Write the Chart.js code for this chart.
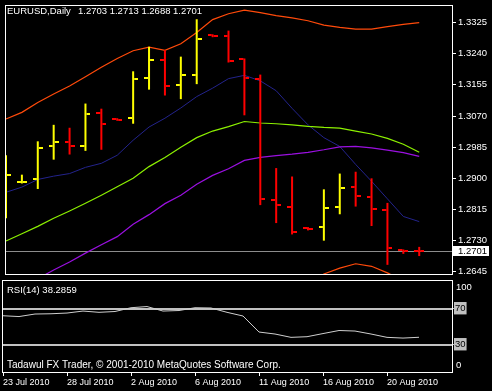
<!DOCTYPE html>
<html>
<head>
<meta charset="utf-8">
<script src="https://cdn.jsdelivr.net/npm/chart.js@4.4.1/dist/chart.umd.min.js"></script>
<style>
  html, body { margin: 0; padding: 0; background: #000; }
  #wrap { position: relative; width: 492px; height: 391px; overflow: hidden; background: #000; }
  canvas { position: absolute; left: 0; }
  #main { top: 0; }
  #rsi { top: 278px; }
</style>
</head>
<body>
<div id="wrap">
  <canvas id="main" width="492" height="280"></canvas>
  <canvas id="rsi" width="492" height="113"></canvas>
</div>
<script>
// --- dados (barras diárias, 23 Jul -> 23 Aug 2010) ---
const symbol = "EURUSD,Daily";
const dateTickIdx = [0, 4, 8, 12, 16, 20, 24];
const dateTickLabels = ["23 Jul 2010", "28 Jul 2010", "2 Aug 2010", "6 Aug 2010", "11 Aug 2010", "16 Aug 2010", "20 Aug 2010"];
const priceTicks = [1.3325, 1.3240, 1.3155, 1.3070, 1.2985, 1.2900, 1.2815, 1.2730, 1.2645];

const opens  = [1.2835, 1.2890, 1.2898, 1.2988, 1.2999, 1.2987, 1.3077, 1.3061, 1.3064, 1.3174, 1.3222, 1.3155, 1.3183, 1.3291, 1.3289, 1.3225, 1.3172, 1.2841, 1.2823, 1.2765, 1.2767, 1.2821, 1.2876, 1.2850, 1.2814, 1.2705, 1.2703];
const highs  = [1.2963, 1.2910, 1.3001, 1.3046, 1.3038, 1.3104, 1.3090, 1.3064, 1.3192, 1.3259, 1.3250, 1.3232, 1.3334, 1.3293, 1.3303, 1.3227, 1.3183, 1.2928, 1.2905, 1.2767, 1.2870, 1.2913, 1.2918, 1.2900, 1.2833, 1.2706, 1.2713];
const lows   = [1.2791, 1.2886, 1.2871, 1.2951, 1.2965, 1.2975, 1.2978, 1.3057, 1.3049, 1.3142, 1.3126, 1.3116, 1.3157, 1.3285, 1.3216, 1.3072, 1.2827, 1.2778, 1.2747, 1.2758, 1.2730, 1.2802, 1.2823, 1.2770, 1.2664, 1.2694, 1.2688];
const closes = [1.2908, 1.2891, 1.2983, 1.2999, 1.2987, 1.3075, 1.3049, 1.3060, 1.3171, 1.3222, 1.3152, 1.3183, 1.3281, 1.3289, 1.3221, 1.3174, 1.2844, 1.2826, 1.2753, 1.2763, 1.2820, 1.2874, 1.2852, 1.2815, 1.2709, 1.2703, 1.2701];

// bandas e médias
const bandUpper = [1.3062, 1.3080, 1.3107, 1.3130, 1.3152, 1.3177, 1.3203, 1.3227, 1.3248, 1.3258, 1.3249, 1.3267, 1.3298, 1.3333, 1.3349, 1.3359, 1.3352, 1.3344, 1.3338, 1.3330, 1.3318, 1.3312, 1.3307, 1.3307, 1.3314, 1.3320, 1.3325];
const bandMiddle = [1.2581, 1.2603, 1.2626, 1.2650, 1.2672, 1.2696, 1.2719, 1.2741, 1.2775, 1.2801, 1.2831, 1.2854, 1.2884, 1.2908, 1.2926, 1.2949, 1.2957, 1.2962, 1.2966, 1.2971, 1.2978, 1.2986, 1.2987, 1.2983, 1.2977, 1.2970, 1.2960];
const bandLower = [null, null, null, null, null, null, null, null, null, null, null, null, null, null, null, null, null, null, 1.2594, 1.2613, 1.2639, 1.2655, 1.2667, 1.2660, 1.2642, 1.2620, 1.2595];
const maGreen = [1.2729, 1.2749, 1.2769, 1.2791, 1.2811, 1.2832, 1.2854, 1.2877, 1.2900, 1.2932, 1.2957, 1.2985, 1.3011, 1.3029, 1.3041, 1.3055, 1.3051, 1.3049, 1.3046, 1.3042, 1.3039, 1.3037, 1.3029, 1.3021, 1.3009, 1.2993, 1.2971];
const maNavy = [1.2862, 1.2876, 1.2897, 1.2906, 1.2913, 1.2930, 1.2941, 1.2963, 1.3004, 1.3040, 1.3064, 1.3092, 1.3123, 1.3146, 1.3172, 1.3181, 1.3166, 1.3139, 1.3091, 1.3046, 1.3011, 1.2987, 1.2938, 1.2892, 1.2844, 1.2796, 1.2782];

// RSI(14)
const rsiLabel = "RSI(14)";
const rsi = [62.2, 61.3, 64.1, 64.4, 65.2, 67.4, 66.0, 66.9, 71.1, 72.4, 67.4, 68.0, 71.1, 70.8, 66.0, 61.9, 44.1, 41.9, 38.2, 38.9, 42.4, 45.8, 45.2, 41.9, 38.2, 37.4, 38.2859];
const rsiLevels = [70, 30];
const footer = "Tadawul FX Trader, \u00a9 2001-2010 MetaQuotes Software Corp.";

const xMin = -0.0625, xMax = 28.125;
const last = closes.length - 1;
const fontFam = "'Liberation Sans', Arial, sans-serif";

Chart.defaults.font.family = fontFam;
Chart.defaults.font.size = 9.5;
Chart.defaults.color = "#fff";

const pts = arr => arr.map((v, i) => ({ x: i, y: v }));
const isUp = i => closes[i] >= opens[i];
const barColor = i => isUp(i) ? "#ffff00" : "#ff0000";

// pequenos traços de abertura (esq.) e fechamento (dir.)
function tickImage(color, side) {
    const c = document.createElement("canvas");
    c.width = 10; c.height = 2;
    const g = c.getContext("2d");
    g.fillStyle = color;
    g.fillRect(side === "left" ? 0 : 6, 0, 4, 2);
    return c;
}
const upL = tickImage("#ffff00", "left"), upR = tickImage("#ffff00", "right");
const dnL = tickImage("#ff0000", "left"), dnR = tickImage("#ff0000", "right");

const lineDs = (arr, color, width) => ({
    type: "line", data: pts(arr), borderColor: color, borderWidth: width,
    pointRadius: 0, tension: 0, order: 2
});

// ------------------ Gráfico principal ------------------
const mainDecor = {
    id: "mainDecor",
    beforeDatasetsDraw(chart) {
        const { ctx, chartArea: a, scales: { y } } = chart;
        const py = Math.round(y.getPixelForValue(closes[last])) + 0.5;
        ctx.save();
        ctx.strokeStyle = "#8c8c8c";
        ctx.lineWidth = 1;
        ctx.beginPath();
        ctx.moveTo(a.left, py);
        ctx.lineTo(a.right, py);
        ctx.stroke();
        ctx.restore();
    },
    afterDraw(chart) {
        const { ctx, chartArea: a, scales: { y } } = chart;
        ctx.save();
        ctx.strokeStyle = "#fff";
        ctx.lineWidth = 1;
        ctx.strokeRect(a.left + 0.5, a.top + 0.5, a.right - a.left - 1, a.bottom - a.top - 1);
        ctx.font = "9.5px " + fontFam;
        ctx.textBaseline = "middle";
        ctx.fillStyle = "#fff";
        ctx.fillText(symbol, 7, 11);
        ctx.fillText([opens[last], highs[last], lows[last], closes[last]].map(v => v.toFixed(4)).join(" "), 78, 11);
        // caixa do preço atual
        const py = Math.round(y.getPixelForValue(closes[last]));
        ctx.fillRect(a.right, py - 5, 36, 10);
        ctx.fillStyle = "#000";
        ctx.fillText(closes[last].toFixed(4), a.right + 5, py + 0.5);
        ctx.restore();
    }
};

new Chart(document.getElementById("main"), {
    type: "bar",
    data: {
        datasets: [
            {
                type: "bar",
                data: highs.map((h, i) => ({ x: i, y: [lows[i], h] })),
                backgroundColor: c => barColor(c.dataIndex),
                barThickness: 2, borderWidth: 0, inflateAmount: 0, order: 0
            },
            {
                type: "scatter", data: pts(opens),
                pointStyle: c => isUp(c.dataIndex) ? upL : dnL, pointRadius: 4, order: 0
            },
            {
                type: "scatter", data: pts(closes),
                pointStyle: c => isUp(c.dataIndex) ? upR : dnR, pointRadius: 4, order: 0
            },
            lineDs(bandUpper, "#ff4a0a", 1.2),
            lineDs(bandLower, "#ff4a0a", 1.2),
            lineDs(bandMiddle, "#9a10e0", 1.2),
            lineDs(maGreen, "#8cf000", 1.2),
            lineDs(maNavy, "#23238c", 1)
        ]
    },
    options: {
        responsive: false,
        animation: false,
        events: [],
        layout: { padding: { left: 2, top: 2, right: 0, bottom: 1 } },
        plugins: { legend: { display: false }, tooltip: { enabled: false } },
        scales: {
            x: { type: "linear", display: false, min: xMin, max: xMax, bounds: "data", offset: false, grid: { offset: false } },
            y: {
                type: "linear", position: "right", min: 1.26363, max: 1.33729, bounds: "data", beginAtZero: false,
                afterBuildTicks: s => { s.ticks = priceTicks.map(v => ({ value: v })); },
                afterFit: s => { s.width = 39; s.paddingTop = 0; s.paddingBottom = 0; },
                grid: { drawOnChartArea: false, tickLength: 3, color: "#fff" },
                border: { display: false },
                ticks: { padding: 2, color: "#fff", callback: v => v.toFixed(4) }
            }
        }
    },
    plugins: [mainDecor]
});

// ------------------ Painel RSI ------------------
const rsiDecor = {
    id: "rsiDecor",
    beforeDatasetsDraw(chart) {
        const { ctx, chartArea: a, scales: { y } } = chart;
        ctx.save();
        ctx.strokeStyle = "#c0c0c0";
        ctx.lineWidth = 2;
        rsiLevels.forEach(v => {
            const py = Math.round(y.getPixelForValue(v));
            ctx.beginPath();
            ctx.moveTo(a.left, py);
            ctx.lineTo(a.right, py);
            ctx.stroke();
        });
        ctx.restore();
    },
    afterDraw(chart) {
        const { ctx, chartArea: a, scales: { y } } = chart;
        ctx.save();
        ctx.strokeStyle = "#fff";
        ctx.lineWidth = 1;
        ctx.strokeRect(a.left + 0.5, a.top + 0.5, a.right - a.left - 1, a.bottom - a.top - 1);
        ctx.font = "9.5px " + fontFam;
        ctx.textBaseline = "middle";
        ctx.fillStyle = "#fff";
        ctx.fillText(rsiLabel + " " + rsi[last].toFixed(4), 7, a.top + 10.7);
        ctx.fillText("100", a.right + 3, y.getPixelForValue(100) + 6);
        ctx.fillText("0", a.right + 3, y.getPixelForValue(0) - 6);
        ctx.font = "10px " + fontFam;
        ctx.fillText(footer, 7, a.bottom - 7.3);
        ctx.restore();
    }
};

new Chart(document.getElementById("rsi"), {
    type: "line",
    data: {
        datasets: [{
            data: pts(rsi), borderColor: "#cfcfcf", borderWidth: 1, pointRadius: 0, tension: 0
        }]
    },
    options: {
        responsive: false,
        animation: false,
        events: [],
        layout: { padding: { left: 2, top: 2, right: 0, bottom: 0 } },
        plugins: { legend: { display: false }, tooltip: { enabled: false } },
        scales: {
            x: {
                type: "linear", min: xMin, max: xMax, bounds: "data", offset: false,
                afterBuildTicks: s => { s.ticks = dateTickIdx.map(v => ({ value: v })); },
                afterFit: s => { s.height = 18; s.paddingLeft = 0; s.paddingRight = 0; },
                grid: { drawOnChartArea: false, tickLength: 3, color: "#fff" },
                border: { display: false },
                ticks: {
                    align: "start", autoSkip: false, maxRotation: 0, padding: 1, color: "#fff",
                    font: { size: 9 },
                    callback: v => dateTickLabels[dateTickIdx.indexOf(v)]
                }
            },
            y: {
                type: "linear", position: "right", min: -1.4, max: 101.9, bounds: "data",
                afterBuildTicks: s => { s.ticks = rsiLevels.map(v => ({ value: v })); },
                afterFit: s => { s.width = 39; s.paddingTop = 0; s.paddingBottom = 0; },
                grid: { drawOnChartArea: false, tickLength: 1, color: "#c0c0c0" },
                border: { display: false },
                ticks: {
                    padding: 1, color: "#000", showLabelBackdrop: true, backdropColor: "#c0c0c0",
                    backdropPadding: { left: 1, right: 1, top: 1, bottom: 0 },
                    callback: v => String(v)
                }
            }
        }
    },
    plugins: [rsiDecor]
});
</script>
</body>
</html>
